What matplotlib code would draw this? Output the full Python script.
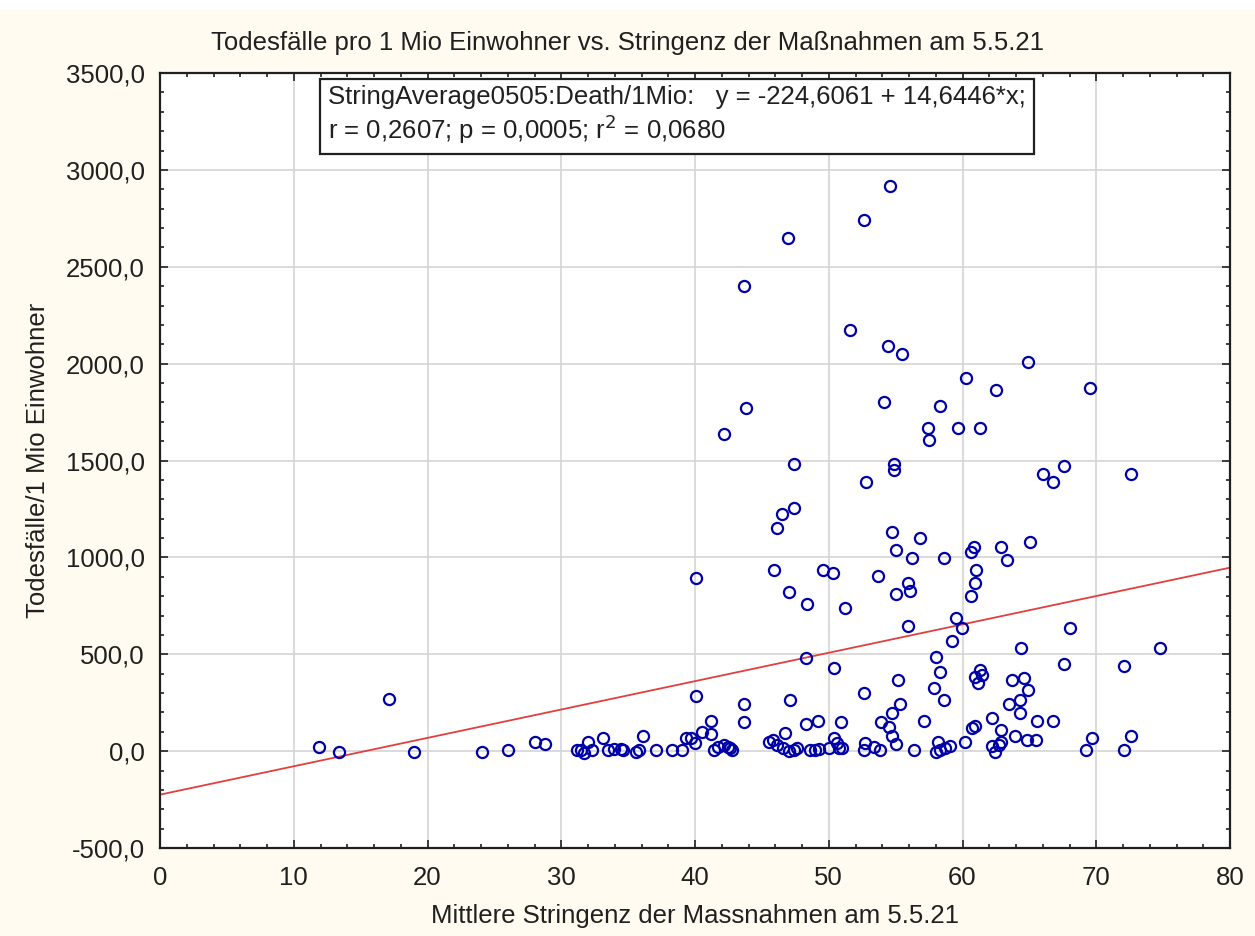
import matplotlib
matplotlib.use('Agg')
import matplotlib.pyplot as plt
from matplotlib.ticker import MultipleLocator, FuncFormatter
from matplotlib.patches import Rectangle
import numpy as np

plt.rcParams['font.family'] = ['Liberation Sans', 'DejaVu Sans']

# Mittlere Stringenz (x) und Todesfaelle pro 1 Mio Einwohner (y)
stringency = [
    11.9, 13.4, 17.1, 19.0, 24.1, 26.0, 28.0, 28.75, 31.2,
    31.5, 31.7, 32.3, 32.0, 33.1, 33.5, 33.95, 34.45, 34.6, 35.6, 35.8,
    36.1, 37.1, 38.3, 39.05, 39.3, 39.7, 40.0, 40.5, 41.2, 41.2, 41.4,
    41.7, 42.2, 42.5, 42.8, 42.6, 40.05, 43.7, 43.7, 45.5, 45.8, 46.1,
    46.7, 46.6, 47.0, 47.4, 47.6, 47.1, 48.3, 48.6, 49.0, 49.25, 49.2,
    50.0, 50.4, 50.6, 50.75, 51.0, 50.9,
    52.6, 55.2, 57.9, 58.6, 55.35, 54.7, 53.9, 54.5, 57.1, 54.7, 55.0,
    52.7, 52.6, 53.4, 53.85, 56.4, 58.2, 58.0, 58.3, 58.7, 59.1, 60.2,
    60.7, 60.95, 62.2, 62.9, 62.2, 62.45, 62.7, 62.9, 63.9, 64.8, 65.5,
    65.6, 66.8, 63.7, 64.6, 64.9, 63.5, 64.3, 64.3, 69.2, 69.7, 72.1, 72.6,
    47.4, 52.8, 54.85, 54.85, 46.5, 47.4, 46.1, 54.7, 55.0, 40.05, 45.9,
    49.6, 50.3, 53.7, 55.0, 47.05, 48.4, 51.25, 48.3, 50.4,
    66.0, 66.8, 67.6, 72.6, 56.8, 56.2, 58.6, 60.85, 60.6, 62.9, 63.3,
    65.05, 55.9, 56.1, 61.0, 60.9, 60.6, 55.9, 59.5, 59.95, 59.2, 68.0,
    64.4, 74.75, 67.6, 72.1, 58.0, 58.3, 61.3, 60.95, 61.45, 61.15,
    54.55, 52.6, 46.95, 43.65, 51.6, 54.4, 55.5, 43.85, 42.2, 54.1, 64.9,
    60.25, 62.5, 69.5, 58.3, 57.4, 57.5, 59.65, 61.3,
]
deaths = [
    22, -5, 268, -5, -5, 5, 45, 35, 5,
    5, -9, 5, 48, 66, 5, 10, 9, 5, -3, 5,
    77, 5, 5, 5, 66, 66, 40, 100, 88, 156, 5,
    22, 31, 22, 5, 15, 285, 243, 148, 48, 60, 31,
    91, 14, 2, 5, 14, 263, 138, 5, 5, 9, 156,
    14, 66, 40, 14, 14, 148,
    301, 367, 324, 263, 243, 198, 148, 126, 156, 77, 36,
    40, 5, 22, 5, 5, 48, -4, 5, 14, 26, 48,
    117, 129, 169, 108, 26, -4, 31, 48, 77, 57, 57,
    156, 156, 367, 375, 315, 243, 263, 198, 5, 66, 5, 77,
    1482, 1387, 1482, 1451, 1222, 1253, 1150, 1132, 1038, 895, 934,
    934, 920, 903, 810, 819, 757, 737, 479, 427,
    1430, 1387, 1473, 1430, 1098, 995, 995, 1055, 1026, 1055, 986,
    1077, 866, 828, 934, 869, 800, 645, 685, 633, 570, 633,
    530, 530, 448, 439, 487, 406, 418, 384, 392, 350,
    2918, 2741, 2647, 2401, 2173, 2091, 2050, 1769, 1635, 1800, 2007,
    1924, 1864, 1873, 1781, 1666, 1606, 1666, 1666,
]

intercept = -224.6061
slope = 14.6446
fit_text = ('StringAverage0505:Death/1Mio:   y = -224,6061 + 14,6446*x;\n'
            'r = 0,2607; p = 0,0005; r$^2$ = 0,0680')

fs = 18.5

fig = plt.figure(figsize=(12.55, 9.36), dpi=100, facecolor='#fffbf0')
fig.patches.append(Rectangle((0, 1 - 10 / 936), 1, 10 / 936, transform=fig.transFigure,
                             facecolor='white', edgecolor='none', zorder=-1))
ax = fig.add_axes([160 / 1255, 1 - 848 / 936, 1070 / 1255, 775 / 936])
ax.set_facecolor('white')

xs = np.array([0, 80])
ax.plot(xs, intercept + slope * xs, color='#e04040', lw=1.3, zorder=2)
ax.plot(stringency, deaths, 'o', mfc='none', mec='#0000a8', ms=8, mew=1.6, zorder=3)

ax.set_xlim(0, 80)
ax.set_ylim(-500, 3500)
ax.xaxis.set_major_locator(MultipleLocator(10))
ax.xaxis.set_minor_locator(MultipleLocator(2))
ax.yaxis.set_major_locator(MultipleLocator(500))
ax.yaxis.set_minor_locator(MultipleLocator(100))
ax.yaxis.set_major_formatter(FuncFormatter(lambda v, p: f'{v:.1f}'.replace('.', ',')))
ax.grid(True, which='major', color='#d4d4d4', lw=1.2, zorder=0)
ax.tick_params(which='both', direction='in', top=True, right=True, colors='#202020',
               labelsize=fs, width=1.2)
ax.tick_params(axis='y', which='major', length=6, pad=11)
ax.tick_params(axis='x', which='major', length=6, pad=13)
ax.tick_params(which='minor', length=3)
for s in ax.spines.values():
    s.set_linewidth(1.6)
    s.set_color('#202020')

ax.set_xlabel('Mittlere Stringenz der Massnahmen am 5.5.21', fontsize=fs, color='#202020', labelpad=10)
ax.set_ylabel('Todesfälle/1 Mio Einwohner', fontsize=fs, color='#202020', labelpad=11)
fig.text(0.5, 1 - 43 / 936, 'Todesfälle pro 1 Mio Einwohner vs. Stringenz der Maßnahmen am 5.5.21',
         ha='center', va='center', fontsize=fs, color='#202020')

ax.text(0.157, 0.985, fit_text, transform=ax.transAxes, ha='left', va='top', fontsize=fs,
        color='#202020', linespacing=1.15,
        bbox=dict(boxstyle='square,pad=0.3', facecolor='white', edgecolor='#202020', lw=1.6))

fig.savefig('out.png', dpi=100, facecolor=fig.get_facecolor())
